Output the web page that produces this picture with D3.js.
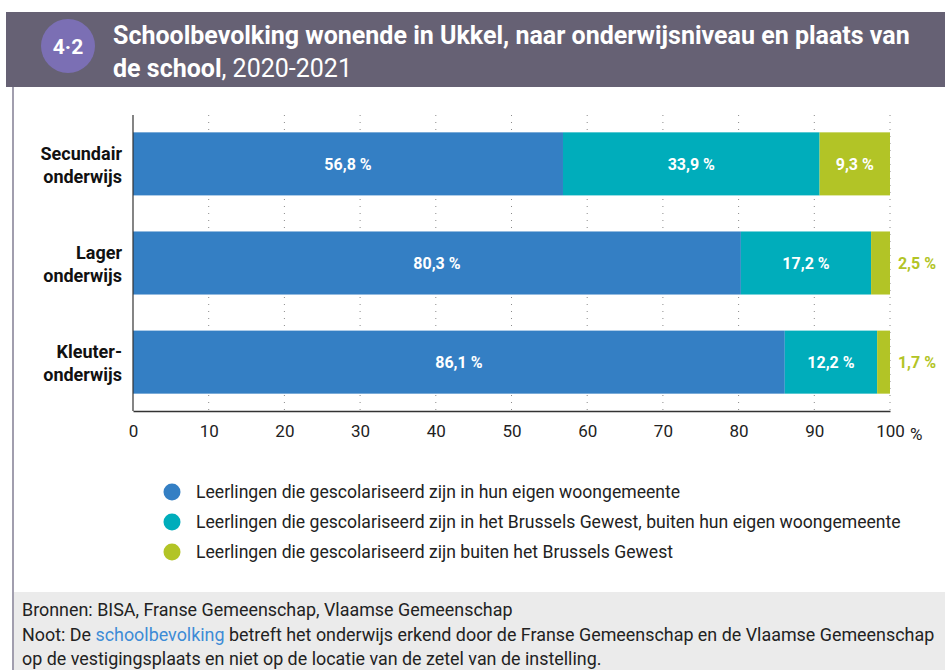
<!DOCTYPE html>
<html>
<head>
<meta charset="utf-8">
<script src="https://cdn.jsdelivr.net/npm/d3@7"></script>
<style>
  body { margin: 0; background: #fff; }
  svg { display: block; }
  text { font-family: "Roboto", sans-serif; }
</style>
</head>
<body>
<script>
var width = 945;
var height = 670;

// data
var categories = ["Secundair onderwijs", "Lager onderwijs", "Kleuter-onderwijs"];
var categoryLines = [["Secundair", "onderwijs"], ["Lager", "onderwijs"], ["Kleuter-", "onderwijs"]];
var eigenGemeente = [56.8, 80.3, 86.1];
var brusselsGewest = [33.9, 17.2, 12.2];
var buitenGewest = [9.3, 2.5, 1.7];
var seriesNames = [
  "Leerlingen die gescolariseerd zijn in hun eigen woongemeente",
  "Leerlingen die gescolariseerd zijn in het Brussels Gewest, buiten hun eigen woongemeente",
  "Leerlingen die gescolariseerd zijn buiten het Brussels Gewest"
];
var seriesColors = ["#347fc4", "#00adbb", "#b2c426"];
var ticks = [0, 10, 20, 30, 40, 50, 60, 70, 80, 90, 100];

var rows = categories.map(function (c, i) {
  return { cat: c, lines: categoryLines[i], vals: [eigenGemeente[i], brusselsGewest[i], buitenGewest[i]] };
});

var svg = d3.select("body").append("svg")
  .attr("width", width)
  .attr("height", height);

// frame: header, left border, footer
svg.append("rect").attr("x", 6).attr("y", 12).attr("width", 939).attr("height", 75).attr("fill", "#666174");
svg.append("rect").attr("x", 12).attr("y", 87).attr("width", 2).attr("height", 583).attr("fill", "#a19eae");
svg.append("rect").attr("x", 14).attr("y", 592).attr("width", 931).attr("height", 78).attr("fill", "#ebebeb");

svg.append("circle").attr("cx", 68).attr("cy", 46).attr("r", 27).attr("fill", "#7b6fb4");
svg.append("text").attr("x", 68).attr("y", 54)
  .attr("text-anchor", "middle")
  .style("font-weight", "bold").style("font-size", "21px").attr("fill", "#fff")
  .text("4·2");

var title = svg.append("g").attr("fill", "#fff")
  .style("font-size", "25px");
title.append("text").attr("x", 113).attr("y", 44)
  .style("font-weight", "bold")
  .text("Schoolbevolking wonende in Ukkel, naar onderwijsniveau en plaats van");
var t2 = title.append("text").attr("x", 113).attr("y", 77);
t2.append("tspan").style("font-weight", "bold").text("de school");
t2.append("tspan").style("font-weight", "normal").text(", 2020-2021");

// chart
var x = d3.scaleLinear().domain([0, 100]).range([133, 890]);
var y = d3.scaleBand().domain(categories).range([115, 411]).paddingInner(0.364).paddingOuter(0.175);

// dotted grid
svg.append("g").selectAll("line")
  .data(ticks.slice(1))
  .enter().append("line")
  .attr("x1", function (d) { return x(d); })
  .attr("x2", function (d) { return x(d); })
  .attr("y1", 115).attr("y2", 411)
  .attr("stroke", "#8a8a8a")
  .attr("stroke-width", 1)
  .attr("stroke-dasharray", "1,6");

function stack(d) {
  var acc = 0;
  return d.vals.map(function (v, k) { var s = acc; acc += v; return { cat: d.cat, x0: s, x1: acc, v: v, k: k }; });
}

var bar = svg.append("g").selectAll("g")
  .data(rows)
  .enter().append("g");

bar.selectAll("rect")
  .data(stack)
  .enter().append("rect")
  .attr("x", function (d) { return x(d.x0); })
  .attr("width", function (d) { return x(d.x1) - x(d.x0); })
  .attr("y", function (d) { return y(d.cat); })
  .attr("height", y.bandwidth())
  .attr("fill", function (d) { return seriesColors[d.k]; });

bar.selectAll("text.val")
  .data(stack)
  .enter().append("text")
  .attr("class", "val")
  .attr("x", function (d) { return d.v < 5 ? x(100) + 27 : (x(d.x0) + x(d.x1)) / 2; })
  .attr("y", function (d) { return y(d.cat) + y.bandwidth() / 2 + 6; })
  .attr("text-anchor", "middle")
  .attr("fill", function (d) { return d.v < 5 ? seriesColors[2] : "#fff"; })
  .style("font-weight", "bold")
  .style("font-size", "16px")
  .text(function (d) { return d3.format(".1f")(d.v).replace(".", ",") + " %"; });

// y axis line and category labels
svg.append("line").attr("x1", 133).attr("x2", 133).attr("y1", 115).attr("y2", 411)
  .attr("stroke", "#333").attr("stroke-width", 1.2);

var cat = svg.append("g").selectAll("text")
  .data(rows)
  .enter().append("text")
  .attr("text-anchor", "end")
  .attr("fill", "#111")
  .style("font-weight", "bold")
  .style("font-size", "18px");
cat.selectAll("tspan")
  .data(function (d) { return d.lines.map(function (l) { return { l: l, cat: d.cat }; }); })
  .enter().append("tspan")
  .attr("x", 122)
  .attr("y", function (d, i) { return y(d.cat) + y.bandwidth() / 2 - 4 + i * 23; })
  .text(function (d) { return d.l; });

// x axis
var xAxis = svg.append("g")
  .attr("transform", "translate(0,411)")
  .call(d3.axisBottom(x).tickValues(ticks).tickSize(0).tickPadding(14)
    .tickFormat(function (d) { return d; }));
xAxis.select(".domain").attr("stroke", "#333").attr("stroke-width", 1.5);
xAxis.selectAll("text")
  .style("font-family", "Roboto, sans-serif")
  .style("font-size", "17px").attr("fill", "#222");
svg.append("text").attr("x", 910).attr("y", 440)
  .style("font-size", "17px").attr("fill", "#222").text("%");

// legend
var legend = svg.append("g").selectAll("g")
  .data(seriesNames)
  .enter().append("g")
  .attr("transform", function (d, i) { return "translate(0," + (492 + i * 30) + ")"; });
legend.append("circle").attr("cx", 172).attr("cy", 0).attr("r", 8.5)
  .attr("fill", function (d, i) { return seriesColors[i]; });
legend.append("text").attr("x", 196).attr("y", 6)
  .style("font-size", "17.6px").attr("fill", "#222")
  .text(function (d) { return d; });

// footer
var foot = svg.append("g").style("font-size", "17.9px").attr("fill", "#222");
foot.append("text").attr("x", 22).attr("y", 616).text("Bronnen: BISA, Franse Gemeenschap, Vlaamse Gemeenschap");
var n = foot.append("text").attr("x", 22).attr("y", 641);
n.append("tspan").text("Noot: De ");
n.append("tspan").attr("fill", "#3d8bd6").text("schoolbevolking");
n.append("tspan").text(" betreft het onderwijs erkend door de Franse Gemeenschap en de Vlaamse Gemeenschap");
foot.append("text").attr("x", 22).attr("y", 665).text("op de vestigingsplaats en niet op de locatie van de zetel van de instelling.");
</script>
</body>
</html>
